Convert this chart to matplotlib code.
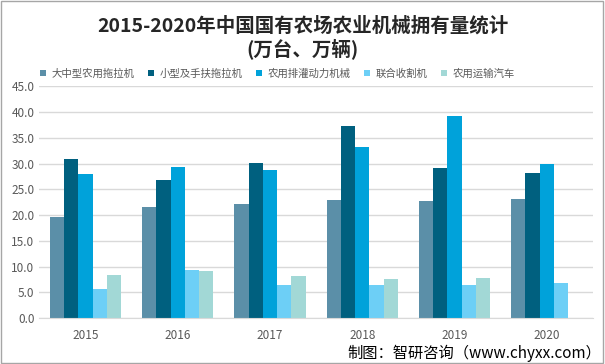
import matplotlib.pyplot as plt
import numpy as np
from matplotlib.patches import Rectangle

plt.rcParams['font.family'] = ['Noto Sans CJK SC', 'DejaVu Sans']

# data
years = ['2015', '2016', '2017', '2018', '2019', '2020']
series_names = ['大中型农用拖拉机', '小型及手扶拖拉机', '农用排灌动力机械', '联合收割机', '农用运输汽车']
large_tractors = [19.6, 21.5, 22.1, 22.9, 22.7, 23.1]
small_tractors = [30.8, 26.8, 30.1, 37.2, 29.1, 28.1]
irrigation = [27.9, 29.3, 28.7, 33.2, 39.2, 29.9]
harvesters = [5.6, 9.3, 6.4, 6.4, 6.4, 6.8]
trucks = [8.4, 9.1, 8.1, 7.6, 7.8, 0]
colors = ['#5B8FA8', '#00607F', '#00A2DA', '#6DCFF6', '#A2D8D6']

all_series = [large_tractors, small_tractors, irrigation, harvesters, trucks]

fig = plt.figure(figsize=(6.05, 3.64), dpi=100)
ax = fig.add_axes([0.065, 0.126, 0.915, 0.637])

x = np.arange(len(years))
w = 0.154
for i, (vals, name, c) in enumerate(zip(all_series, series_names, colors)):
    ax.bar(x + (i - 2) * w, vals, width=w, color=c, label=name)

ax.set_xlim(-0.5, len(years) - 0.5)
ax.set_ylim(0, 45)
ax.set_yticks(np.arange(0, 46, 5))
ax.set_yticklabels([f'{v:.1f}' for v in np.arange(0, 46, 5)])
ax.set_xticks(x)
ax.set_xticklabels(years)
ax.tick_params(axis='both', length=0, labelsize=8.5, colors='#595959')
ax.tick_params(axis='x', pad=8)
ax.yaxis.grid(True, color='#D9D9D9', linewidth=1)
ax.set_axisbelow(True)
for s in ['top', 'right', 'left']:
    ax.spines[s].set_visible(False)
ax.spines['bottom'].set_color('#D9D9D9')

fig.text(0.5, 0.93, '2015-2020年中国国有农场农业机械拥有量统计', ha='center', va='center',
         fontsize=14, fontweight='bold', color='#262626')
fig.text(0.5, 0.865, '(万台、万辆)', ha='center', va='center',
         fontsize=14, fontweight='bold', color='#262626')

ax.legend(loc='center', bbox_to_anchor=(0.43, 1.055), ncol=5, frameon=False,
          fontsize=7.5, handlelength=0.6, handleheight=0.6, handletextpad=0.5,
          columnspacing=1.3, labelcolor='#595959', borderpad=0.1)

fig.text(0.993, 0.03, '制图：智研咨询（www.chyxx.com）', ha='right', va='center',
         fontsize=11, color='#000000')

fig.patches.append(Rectangle((0.002, 0.003), 0.995, 0.994, transform=fig.transFigure,
                             fill=False, edgecolor='#A6A6A6', linewidth=1))

fig.savefig('out.png', dpi=100)
